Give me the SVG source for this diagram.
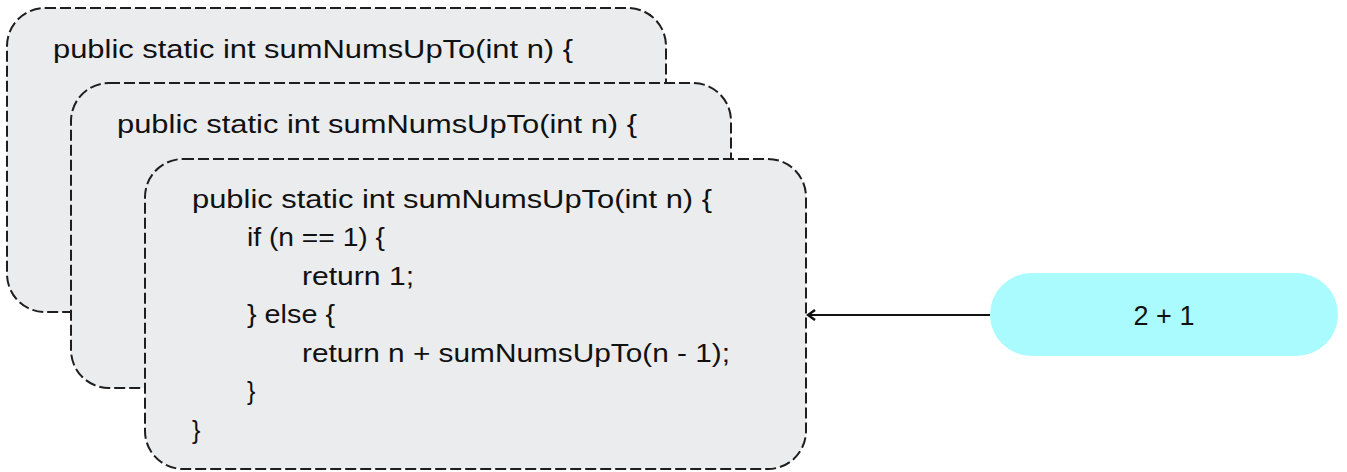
<svg xmlns="http://www.w3.org/2000/svg" width="1347" height="472" viewBox="0 0 1347 472">
<style>
.frame{fill:#ebecee;stroke:#1e1e1e;stroke-width:2;stroke-dasharray:11 4}
.code{font-family:"Liberation Sans",Arial,sans-serif;font-size:25px;fill:#111}
.lbl{font-family:"Liberation Sans",Arial,sans-serif;font-size:27px;fill:#111;text-anchor:middle}
</style>
<defs>
<marker id="arr" viewBox="0 0 12 12" refX="10" refY="6" markerWidth="12" markerHeight="12" markerUnits="userSpaceOnUse" orient="auto">
<path d="M3,1 L10,6 L3,11" fill="none" stroke="#111" stroke-width="2.5"/>
</marker>
</defs>
<g id="frame1">
<rect class="frame" x="7" y="8" width="659" height="304" rx="38"/>
<text class="code" x="53" y="58" textLength="520" lengthAdjust="spacingAndGlyphs">public static int sumNumsUpTo(int n) {</text>
</g>
<g id="frame2">
<rect class="frame" x="71" y="83" width="660" height="305" rx="38"/>
<text class="code" x="117" y="133" textLength="520" lengthAdjust="spacingAndGlyphs">public static int sumNumsUpTo(int n) {</text>
</g>
<g id="frame3">
<rect class="frame" x="145" y="159" width="661" height="310" rx="38"/>
<text class="code" x="192" y="208" textLength="520" lengthAdjust="spacingAndGlyphs">public static int sumNumsUpTo(int n) {</text>
<text class="code" x="247" y="246" textLength="138" lengthAdjust="spacingAndGlyphs">if (n == 1) {</text>
<text class="code" x="302" y="285" textLength="112" lengthAdjust="spacingAndGlyphs">return 1;</text>
<text class="code" x="247" y="323" textLength="88" lengthAdjust="spacingAndGlyphs">} else {</text>
<text class="code" x="302" y="362" textLength="428" lengthAdjust="spacingAndGlyphs">return n + sumNumsUpTo(n - 1);</text>
<text class="code" x="247" y="400">}</text>
<text class="code" x="192" y="439">}</text>
</g>
<g id="result">
<rect x="990" y="273" width="348" height="83" rx="41.5" fill="#aafbfe"/>
<text class="lbl" x="1164" y="325">2 + 1</text>
</g>
<g id="connectors">
<line x1="990" y1="315" x2="808" y2="315" stroke="#111" stroke-width="2" marker-end="url(#arr)"/>
</g>
</svg>
